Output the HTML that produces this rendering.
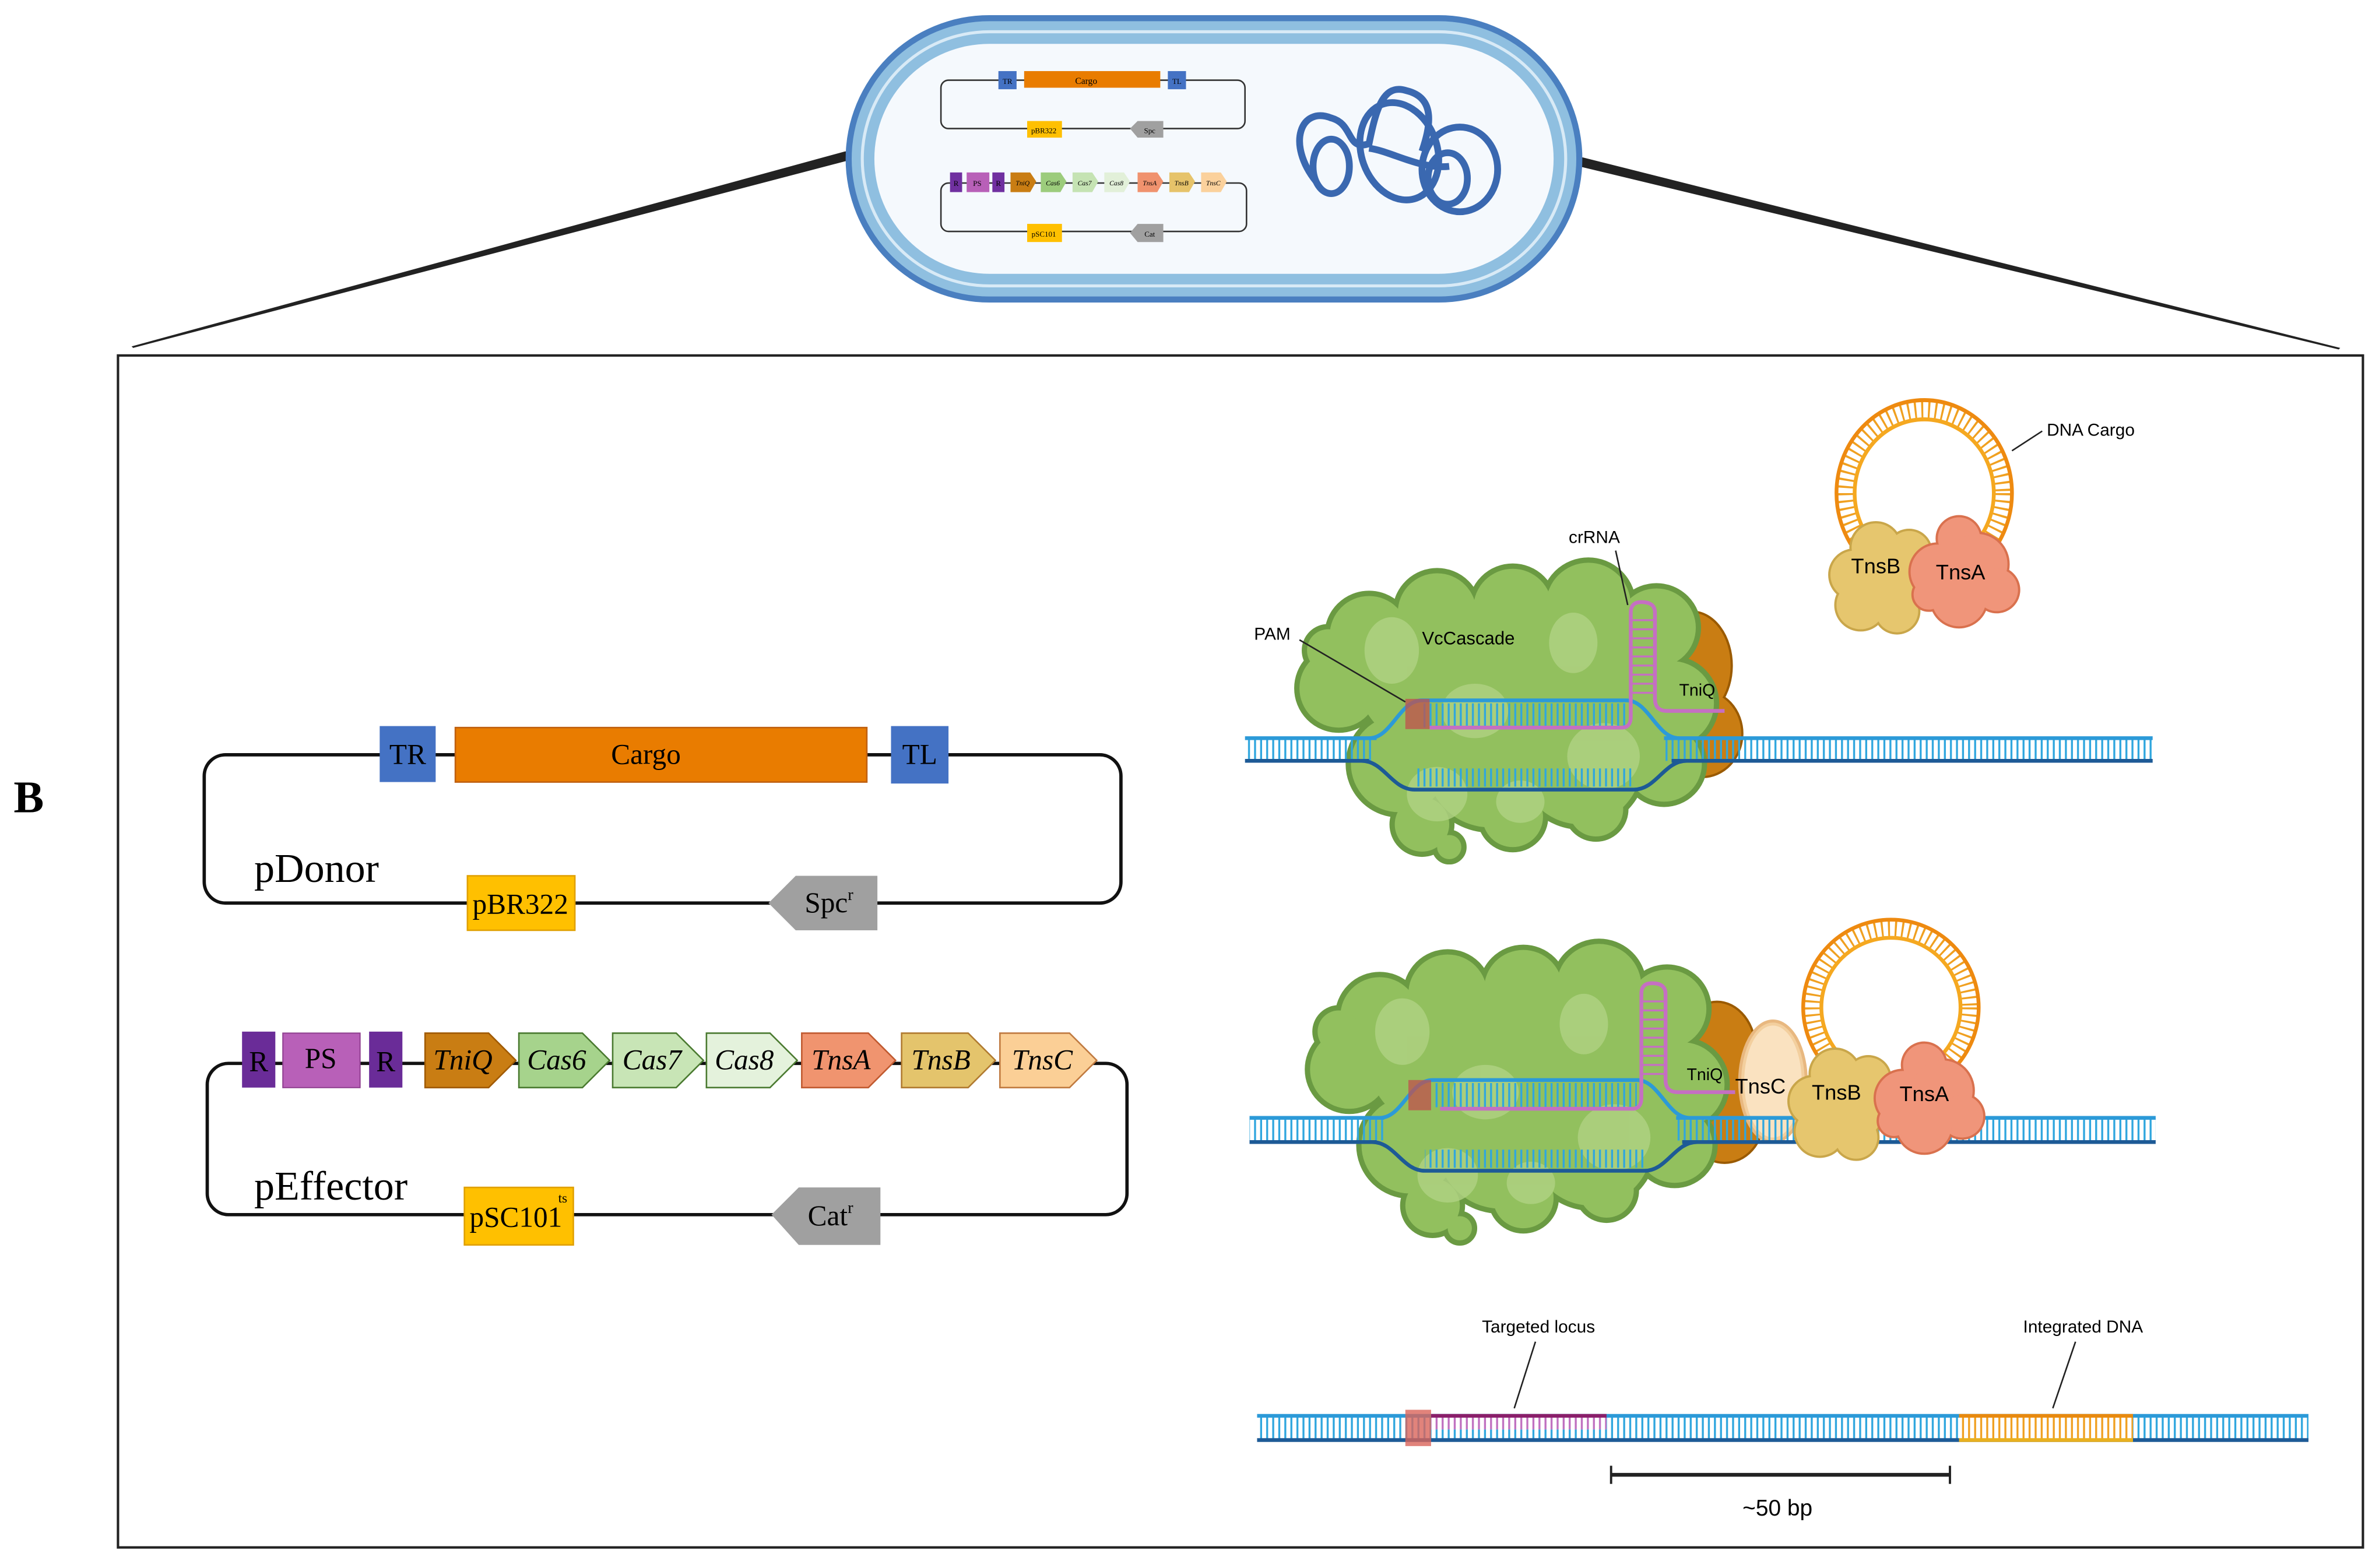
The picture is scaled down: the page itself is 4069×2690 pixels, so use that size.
<!DOCTYPE html>
<html><head><meta charset="utf-8"><style>
html,body{margin:0;padding:0;background:#fff;}
svg{display:block;}
.sf{font-family:"Liberation Serif",serif;}
.ss{font-family:"Liberation Sans",sans-serif;}
</style></head><body>
<svg width="4069" height="2690" viewBox="0 0 1568 1036.6" preserveAspectRatio="none" xmlns="http://www.w3.org/2000/svg">
<defs>
<pattern id="rung" x="0" y="0" width="4" height="40" patternUnits="userSpaceOnUse">
<rect x="1" y="0" width="1.3" height="40" fill="#2fa6de"/>
</pattern>
<pattern id="rungO" x="0" y="0" width="4" height="40" patternUnits="userSpaceOnUse">
<rect x="1" y="0" width="1.3" height="40" fill="#f0a020"/>
</pattern>
<pattern id="rungP" x="0" y="0" width="4" height="40" patternUnits="userSpaceOnUse">
<rect x="1" y="0" width="1.3" height="40" fill="#c070c0"/>
</pattern>
<g id="blob">
 <g fill="#6a9a42" stroke="#6a9a42" stroke-width="7">
  <circle cx="905" cy="420" r="26"/><circle cx="950" cy="405" r="26"/><circle cx="1000" cy="402" r="26"/><circle cx="1050" cy="400" r="28"/><circle cx="1095" cy="415" r="26"/>
  <circle cx="885" cy="455" r="26"/><circle cx="940" cy="450" r="42"/><circle cx="1000" cy="450" r="48"/><circle cx="1060" cy="450" r="45"/><circle cx="1105" cy="465" r="28"/>
  <circle cx="925" cy="505" r="32"/><circle cx="985" cy="505" r="42"/><circle cx="1045" cy="505" r="40"/><circle cx="1100" cy="505" r="25"/>
  <circle cx="940" cy="545" r="18"/><circle cx="1000" cy="540" r="20"/><circle cx="1055" cy="535" r="18"/><circle cx="878" cy="430" r="14"/><circle cx="958" cy="560" r="8"/>
 </g>
 <g fill="#92c05e">
  <circle cx="905" cy="420" r="26"/><circle cx="950" cy="405" r="26"/><circle cx="1000" cy="402" r="26"/><circle cx="1050" cy="400" r="28"/><circle cx="1095" cy="415" r="26"/>
  <circle cx="885" cy="455" r="26"/><circle cx="940" cy="450" r="42"/><circle cx="1000" cy="450" r="48"/><circle cx="1060" cy="450" r="45"/><circle cx="1105" cy="465" r="28"/>
  <circle cx="925" cy="505" r="32"/><circle cx="985" cy="505" r="42"/><circle cx="1045" cy="505" r="40"/><circle cx="1100" cy="505" r="25"/>
  <circle cx="940" cy="545" r="18"/><circle cx="1000" cy="540" r="20"/><circle cx="1055" cy="535" r="18"/><circle cx="878" cy="430" r="14"/><circle cx="958" cy="560" r="8"/>
 </g>
 <g fill="#b0d283" opacity="0.8">
  <ellipse cx="920" cy="430" rx="18" ry="22"/><ellipse cx="975" cy="470" rx="22" ry="18"/><ellipse cx="1040" cy="425" rx="16" ry="20"/>
  <ellipse cx="1060" cy="500" rx="24" ry="22"/><ellipse cx="950" cy="525" rx="20" ry="18"/><ellipse cx="1005" cy="530" rx="16" ry="14"/>
 </g>
</g>
<g id="tnsB">
 <g fill="#d7b458" stroke="#c9a64a" stroke-width="3">
  <circle cx="0" cy="-18" r="16"/><circle cx="22" cy="-15" r="14"/><circle cx="-14" cy="0" r="16"/><circle cx="10" cy="5" r="22"/><circle cx="-10" cy="20" r="16"/><circle cx="14" cy="24" r="14"/>
 </g>
 <g fill="#e6c66e">
  <circle cx="0" cy="-18" r="16"/><circle cx="22" cy="-15" r="14"/><circle cx="-14" cy="0" r="16"/><circle cx="10" cy="5" r="22"/><circle cx="-10" cy="20" r="16"/><circle cx="14" cy="24" r="14"/>
 </g>
</g>
<g id="tnsA">
 <g fill="#e5825f" stroke="#d9714e" stroke-width="3">
  <circle cx="0" cy="-22" r="14"/><circle cx="-14" cy="0" r="18"/><circle cx="12" cy="-5" r="20"/><circle cx="25" cy="12" r="14"/><circle cx="0" cy="18" r="18"/><circle cx="-20" cy="15" r="10"/>
 </g>
 <g fill="#f0957a">
  <circle cx="0" cy="-22" r="14"/><circle cx="-14" cy="0" r="18"/><circle cx="12" cy="-5" r="20"/><circle cx="25" cy="12" r="14"/><circle cx="0" cy="18" r="18"/><circle cx="-20" cy="15" r="10"/>
 </g>
</g>
<g id="ring">
 <circle cx="0" cy="0" r="52" fill="none" stroke="#f0a020" stroke-width="13" stroke-dasharray="1.3 3.2"/>
 <circle cx="0" cy="0" r="58" fill="none" stroke="#ee8a10" stroke-width="2.5"/>
 <circle cx="0" cy="0" r="46" fill="none" stroke="#f5a820" stroke-width="2.5"/>
</g>
</defs>

<rect width="1568" height="1037" fill="#fff"/>

<!-- connector lines (tapered) -->
<polygon points="559,100 561,106 88,230 87,229" fill="#222"/>
<polygon points="1046,104 1044,110 1546,231 1547,230" fill="#222"/>

<!-- cell -->
<rect x="559" y="10" width="487" height="190" rx="95" fill="#4a7fc0"/>
<rect x="563" y="14" width="479" height="182" rx="91" fill="#8fbfe0"/>
<rect x="569" y="20" width="467" height="170" rx="85" fill="#d8eaf6"/>
<rect x="571" y="22" width="463" height="166" rx="83" fill="#8fbfe0"/>
<rect x="578" y="29" width="449" height="152" rx="76" fill="#f5f9fd"/>

<!-- mini plasmids -->
<g class="sf" text-anchor="middle">
<rect x="622" y="53" width="201" height="32" rx="5" fill="none" stroke="#333" stroke-width="1"/>
<rect x="660" y="47" width="12" height="12" fill="#4472c4"/>
<text x="666" y="55.5" font-size="5">TR</text>
<rect x="677" y="47" width="90" height="11" fill="#e97c00"/>
<text x="718" y="55.5" font-size="6">Cargo</text>
<rect x="772" y="47" width="12" height="12" fill="#4472c4"/>
<text x="778" y="55.5" font-size="5">TL</text>
<rect x="679" y="80" width="23" height="11" fill="#ffc000"/>
<text x="690" y="88" font-size="5">pBR322</text>
<polygon points="747,85 752,80 769,80 769,91 752,91" fill="#a0a0a0"/>
<text x="760" y="88" font-size="5">Spc</text>
<rect x="622" y="121" width="202" height="32" rx="5" fill="none" stroke="#333" stroke-width="1"/>
<rect x="628" y="114" width="8" height="13" fill="#7030a0"/>
<text x="632" y="123" font-size="5">R</text>
<rect x="639" y="114" width="15" height="13" fill="#b860b8"/>
<text x="646" y="123" font-size="5">PS</text>
<rect x="656" y="114" width="8" height="13" fill="#7030a0"/>
<text x="660" y="123" font-size="5">R</text>
<g font-style="italic" font-size="4.5">
<polygon points="668,114 681,114 685,120 681,127 668,127" fill="#c97d13"/><text x="676" y="122.5">TniQ</text>
<polygon points="688,114 701,114 705,120 701,127 688,127" fill="#9ccc7c"/><text x="696" y="122.5">Cas6</text>
<polygon points="709,114 722,114 726,120 722,127 709,127" fill="#c5e3b3"/><text x="717" y="122.5">Cas7</text>
<polygon points="730,114 743,114 747,120 743,127 730,127" fill="#e2f0d9"/><text x="738" y="122.5">Cas8</text>
<polygon points="752,114 765,114 769,120 765,127 752,127" fill="#f0926e"/><text x="760" y="122.5">TnsA</text>
<polygon points="773,114 786,114 790,120 786,127 773,127" fill="#e6c36a"/><text x="781" y="122.5">TnsB</text>
<polygon points="794,114 807,114 811,120 807,127 794,127" fill="#fbd19c"/><text x="802" y="122.5">TnsC</text>
</g>
<rect x="679" y="148" width="23" height="12" fill="#ffc000"/>
<text x="690" y="156.5" font-size="5">pSC101</text>
<polygon points="747,154 752,148 769,148 769,160 752,160" fill="#a0a0a0"/>
<text x="760" y="156.5" font-size="5">Cat</text>
</g>
<!-- chromosome -->
<g fill="none" stroke="#3a68b0" stroke-width="4.5">
<path d="M870,120 C850,95 860,70 880,78 C895,82 890,100 905,95 C910,70 915,55 930,60 C950,65 945,85 940,100"/>
<ellipse cx="880" cy="110" rx="12" ry="18"/>
<ellipse cx="925" cy="100" rx="25" ry="33" transform="rotate(-20 925 100)"/>
<ellipse cx="965" cy="112" rx="25" ry="28"/>
<ellipse cx="957" cy="118" rx="13" ry="17"/>
<path d="M905,98 C920,100 938,112 958,110"/>
</g>

<!-- main box -->
<rect x="78" y="235" width="1484" height="788" fill="none" stroke="#222" stroke-width="1.6"/>
<text x="9" y="537" font-size="30" font-weight="bold" class="sf">B</text>

<!-- pDonor -->
<rect x="135" y="499" width="606" height="98" rx="14" fill="none" stroke="#111" stroke-width="2.2"/>
<rect x="251" y="480" width="37" height="37" fill="#4472c4"/>
<text x="269.5" y="505" font-size="19" text-anchor="middle" class="sf">TR</text>
<rect x="301" y="481" width="272" height="36" fill="#e97c00" stroke="#c06010" stroke-width="1"/>
<text x="427" y="505" font-size="19" text-anchor="middle" class="sf">Cargo</text>
<rect x="589" y="480" width="38" height="38" fill="#4472c4"/>
<text x="608" y="505" font-size="19" text-anchor="middle" class="sf">TL</text>
<text x="168" y="583" font-size="27" class="sf">pDonor</text>
<rect x="309" y="579" width="71" height="36" fill="#ffc000" stroke="#e0a000" stroke-width="1"/>
<text x="344" y="604" font-size="19" text-anchor="middle" class="sf">pBR322</text>
<polygon points="508,597 526,579 580,579 580,615 526,615" fill="#a0a0a0"/>
<text x="548" y="603" font-size="19" text-anchor="middle" class="sf">Spc<tspan font-size="11" dy="-8">r</tspan></text>

<!-- pEffector -->
<rect x="137" y="703" width="608" height="100" rx="14" fill="none" stroke="#111" stroke-width="2.2"/>
<rect x="160" y="682" width="22" height="37" fill="#6a2c98"/>
<text x="171" y="708" font-size="19" text-anchor="middle" class="sf">R</text>
<rect x="187" y="683" width="51" height="36" fill="#b860b8" stroke="#904090" stroke-width="0.8"/>
<text x="212" y="706" font-size="19" text-anchor="middle" class="sf">PS</text>
<rect x="244" y="682" width="22" height="37" fill="#6a2c98"/>
<text x="255" y="708" font-size="19" text-anchor="middle" class="sf">R</text>
<g stroke-width="1" font-size="19" font-style="italic" text-anchor="middle" class="sf">
<polygon points="281,683 323,683 341,701 323,719 281,719" fill="#c97d13" stroke="#a05a00"/><text x="306" y="707">TniQ</text>
<polygon points="343,683 385,683 403,701 385,719 343,719" fill="#a6d38c" stroke="#4a7a30"/><text x="368" y="707">Cas6</text>
<polygon points="405,683 447,683 465,701 447,719 405,719" fill="#c8e5b6" stroke="#4a7a30"/><text x="431" y="707">Cas7</text>
<polygon points="467,683 509,683 527,701 509,719 467,719" fill="#e4f2dc" stroke="#4a7a30"/><text x="492" y="707">Cas8</text>
<polygon points="530,683 574,683 592,701 574,719 530,719" fill="#f0946f" stroke="#c05a30"/><text x="556" y="707">TnsA</text>
<polygon points="596,683 640,683 658,701 640,719 596,719" fill="#e4c46c" stroke="#b07a30"/><text x="622" y="707">TnsB</text>
<polygon points="661,683 707,683 725,701 707,719 661,719" fill="#fbcf96" stroke="#c07a40"/><text x="689" y="707">TnsC</text>
</g>
<text x="168" y="793" font-size="27" class="sf">pEffector</text>
<rect x="307" y="785" width="72" height="38" fill="#ffc000" stroke="#e0a000" stroke-width="1"/>
<text x="341" y="811" font-size="19" text-anchor="middle" class="sf">pSC101</text>
<text x="369" y="795" font-size="9" class="sf">ts</text>
<polygon points="510,803 528,785 582,785 582,823 528,823" fill="#a0a0a0"/>
<text x="549" y="810" font-size="19" text-anchor="middle" class="sf">Cat<tspan font-size="11" dy="-8">r</tspan></text>

<!-- ===== Panel 1 ===== -->
<g>
<g fill="#b06a08" stroke="#9a5a00" stroke-width="3">
<ellipse cx="1118" cy="440" rx="26" ry="35"/><ellipse cx="1125" cy="485" rx="26" ry="28"/></g>
<g fill="#c97d13"><ellipse cx="1118" cy="440" rx="26" ry="35"/><ellipse cx="1125" cy="485" rx="26" ry="28"/></g>
</g>
<use href="#blob"/>
<rect x="823" y="488" width="85" height="15" fill="url(#rung)"/>
<rect x="1100" y="488" width="323" height="15" fill="url(#rung)"/>
<line x1="823" y1="488" x2="910" y2="488" stroke="#2c9ad8" stroke-width="2.5"/>
<line x1="1100" y1="488" x2="1423" y2="488" stroke="#2c9ad8" stroke-width="2.5"/>
<line x1="823" y1="503" x2="905" y2="503" stroke="#1d5a96" stroke-width="2.5"/>
<line x1="1105" y1="503" x2="1423" y2="503" stroke="#1d5a96" stroke-width="2.5"/>
<path d="M905,488 C920,488 925,463 940,463 L1075,463 C1090,463 1095,488 1110,488" fill="none" stroke="#2c9ad8" stroke-width="2.5"/>
<path d="M900,503 C915,503 920,522 935,522 L1080,522 C1095,522 1100,503 1115,503" fill="none" stroke="#1d5a96" stroke-width="2.5"/>
<rect x="940" y="465" width="135" height="16" fill="url(#rung)"/>
<rect x="935" y="508" width="145" height="12" fill="url(#rung)"/>
<path d="M945,481 L1072,481 Q1078,481 1078,474 L1078,405 Q1078,398 1085,398 Q1094,398 1094,405 L1094,462 Q1094,470 1102,470 L1140,470" fill="none" stroke="#c56fc2" stroke-width="2.5"/>
<g stroke="#c56fc2" stroke-width="1.3"><line x1="1078" y1="410" x2="1094" y2="410"/><line x1="1078" y1="416" x2="1094" y2="416"/><line x1="1078" y1="422" x2="1094" y2="422"/><line x1="1078" y1="428" x2="1094" y2="428"/><line x1="1078" y1="434" x2="1094" y2="434"/><line x1="1078" y1="440" x2="1094" y2="440"/><line x1="1078" y1="446" x2="1094" y2="446"/><line x1="1078" y1="452" x2="1094" y2="452"/><line x1="1078" y1="458" x2="1094" y2="458"/></g>
<rect x="929" y="462" width="16" height="20" fill="#c0504d" opacity="0.75"/>
<text x="1110" y="460" font-size="11" class="ss">TniQ</text>
<text x="940" y="426" font-size="12" class="ss">VcCascade</text>
<text x="829" y="423" font-size="11.5" class="ss">PAM</text>
<line x1="859" y1="423" x2="929" y2="464" stroke="#222" stroke-width="1"/>
<text x="1037" y="359" font-size="11.5" class="ss">crRNA</text>
<line x1="1068" y1="364" x2="1076" y2="400" stroke="#222" stroke-width="1"/>

<g transform="translate(1272,326) scale(1,1.06)"><use href="#ring"/></g>
<use href="#tnsB" x="1240" y="380"/>
<use href="#tnsA" x="1295" y="378"/>
<text x="1240" y="379" font-size="14" text-anchor="middle" class="ss">TnsB</text>
<text x="1296" y="383" font-size="14" text-anchor="middle" class="ss">TnsA</text>
<line x1="1330" y1="298" x2="1350" y2="285" stroke="#222" stroke-width="1"/>
<text x="1353" y="288" font-size="11.5" class="ss">DNA Cargo</text>

<!-- ===== Panel 2 ===== -->
<g fill="#b06a08" stroke="#9a5a00" stroke-width="3">
<ellipse cx="1135" cy="695" rx="25" ry="32"/><ellipse cx="1140" cy="740" rx="25" ry="28"/></g>
<g fill="#c97d13"><ellipse cx="1135" cy="695" rx="25" ry="32"/><ellipse cx="1140" cy="740" rx="25" ry="28"/></g>
<g fill="#f3cf9e" stroke="#e8b880" stroke-width="2"><ellipse cx="1172" cy="715" rx="22" ry="40"/></g>
<g fill="#fae2c0"><ellipse cx="1172" cy="715" rx="19" ry="37"/></g>
<g transform="translate(1250,666)"><use href="#ring"/></g>
<g transform="translate(7,252)"><use href="#blob"/></g>
<rect x="826" y="739" width="90" height="15" fill="url(#rung)"/>
<rect x="1108" y="739" width="317" height="15" fill="url(#rung)"/>
<line x1="826" y1="739" x2="915" y2="739" stroke="#2c9ad8" stroke-width="2.5"/>
<line x1="1108" y1="739" x2="1425" y2="739" stroke="#2c9ad8" stroke-width="2.5"/>
<line x1="826" y1="755" x2="910" y2="755" stroke="#1d5a96" stroke-width="2.5"/>
<line x1="1112" y1="755" x2="1425" y2="755" stroke="#1d5a96" stroke-width="2.5"/>
<path d="M912,739 C927,739 932,714 947,714 L1082,714 C1097,714 1102,739 1117,739" fill="none" stroke="#2c9ad8" stroke-width="2.5"/>
<path d="M907,755 C922,755 927,774 942,774 L1087,774 C1102,774 1107,755 1122,755" fill="none" stroke="#1d5a96" stroke-width="2.5"/>
<rect x="947" y="716" width="135" height="16" fill="url(#rung)"/>
<rect x="942" y="760" width="145" height="12" fill="url(#rung)"/>
<path d="M952,733 L1079,733 Q1085,733 1085,726 L1085,657 Q1085,650 1092,650 Q1101,650 1101,657 L1101,714 Q1101,722 1109,722 L1147,722" fill="none" stroke="#c56fc2" stroke-width="2.5"/>
<g stroke="#c56fc2" stroke-width="1.3"><line x1="1085" y1="662" x2="1101" y2="662"/><line x1="1085" y1="668" x2="1101" y2="668"/><line x1="1085" y1="674" x2="1101" y2="674"/><line x1="1085" y1="680" x2="1101" y2="680"/><line x1="1085" y1="686" x2="1101" y2="686"/><line x1="1085" y1="692" x2="1101" y2="692"/><line x1="1085" y1="698" x2="1101" y2="698"/><line x1="1085" y1="704" x2="1101" y2="704"/><line x1="1085" y1="710" x2="1101" y2="710"/></g>
<rect x="931" y="714" width="15" height="20" fill="#c0504d" opacity="0.75"/>
<use href="#tnsB" x="1213" y="728"/>
<use href="#tnsA" x="1272" y="726"/>
<text x="1115" y="714" font-size="11" class="ss">TniQ</text>
<text x="1147" y="723" font-size="14" class="ss">TnsC</text>
<text x="1214" y="727" font-size="14" text-anchor="middle" class="ss">TnsB</text>
<text x="1272" y="728" font-size="14" text-anchor="middle" class="ss">TnsA</text>

<!-- ===== Panel 3 ===== -->
<rect x="831" y="936" width="695" height="16" fill="url(#rung)"/>
<line x1="831" y1="936" x2="1526" y2="936" stroke="#2c9ad8" stroke-width="2.5"/>
<line x1="831" y1="952" x2="1526" y2="952" stroke="#1d5a96" stroke-width="2.5"/>
<rect x="946" y="937" width="116" height="8" fill="#fff"/>
<rect x="946" y="937" width="116" height="8" fill="url(#rungP)"/>
<line x1="946" y1="936" x2="1062" y2="936" stroke="#8a1f6a" stroke-width="2.5"/>
<rect x="1295" y="937" width="115" height="14" fill="#fff"/>
<rect x="1295" y="937" width="115" height="14" fill="url(#rungO)"/>
<line x1="1295" y1="936" x2="1410" y2="936" stroke="#e88a10" stroke-width="2.5"/>
<line x1="1295" y1="952" x2="1410" y2="952" stroke="#e8b020" stroke-width="2.5"/>
<rect x="929" y="932" width="17" height="24" fill="#d9645a" opacity="0.8"/>
<text x="1017" y="881" font-size="11.5" text-anchor="middle" class="ss">Targeted locus</text>
<line x1="1015" y1="887" x2="1001" y2="931" stroke="#222" stroke-width="1"/>
<text x="1377" y="881" font-size="11.5" text-anchor="middle" class="ss">Integrated DNA</text>
<line x1="1372" y1="887" x2="1357" y2="931" stroke="#222" stroke-width="1"/>
<line x1="1065" y1="975" x2="1289" y2="975" stroke="#222" stroke-width="2.5"/>
<line x1="1065" y1="969" x2="1065" y2="981" stroke="#222" stroke-width="1.5"/>
<line x1="1289" y1="969" x2="1289" y2="981" stroke="#222" stroke-width="1.5"/>
<text x="1175" y="1002" font-size="15" text-anchor="middle" class="ss">~50 bp</text>
</svg>
</body></html>
